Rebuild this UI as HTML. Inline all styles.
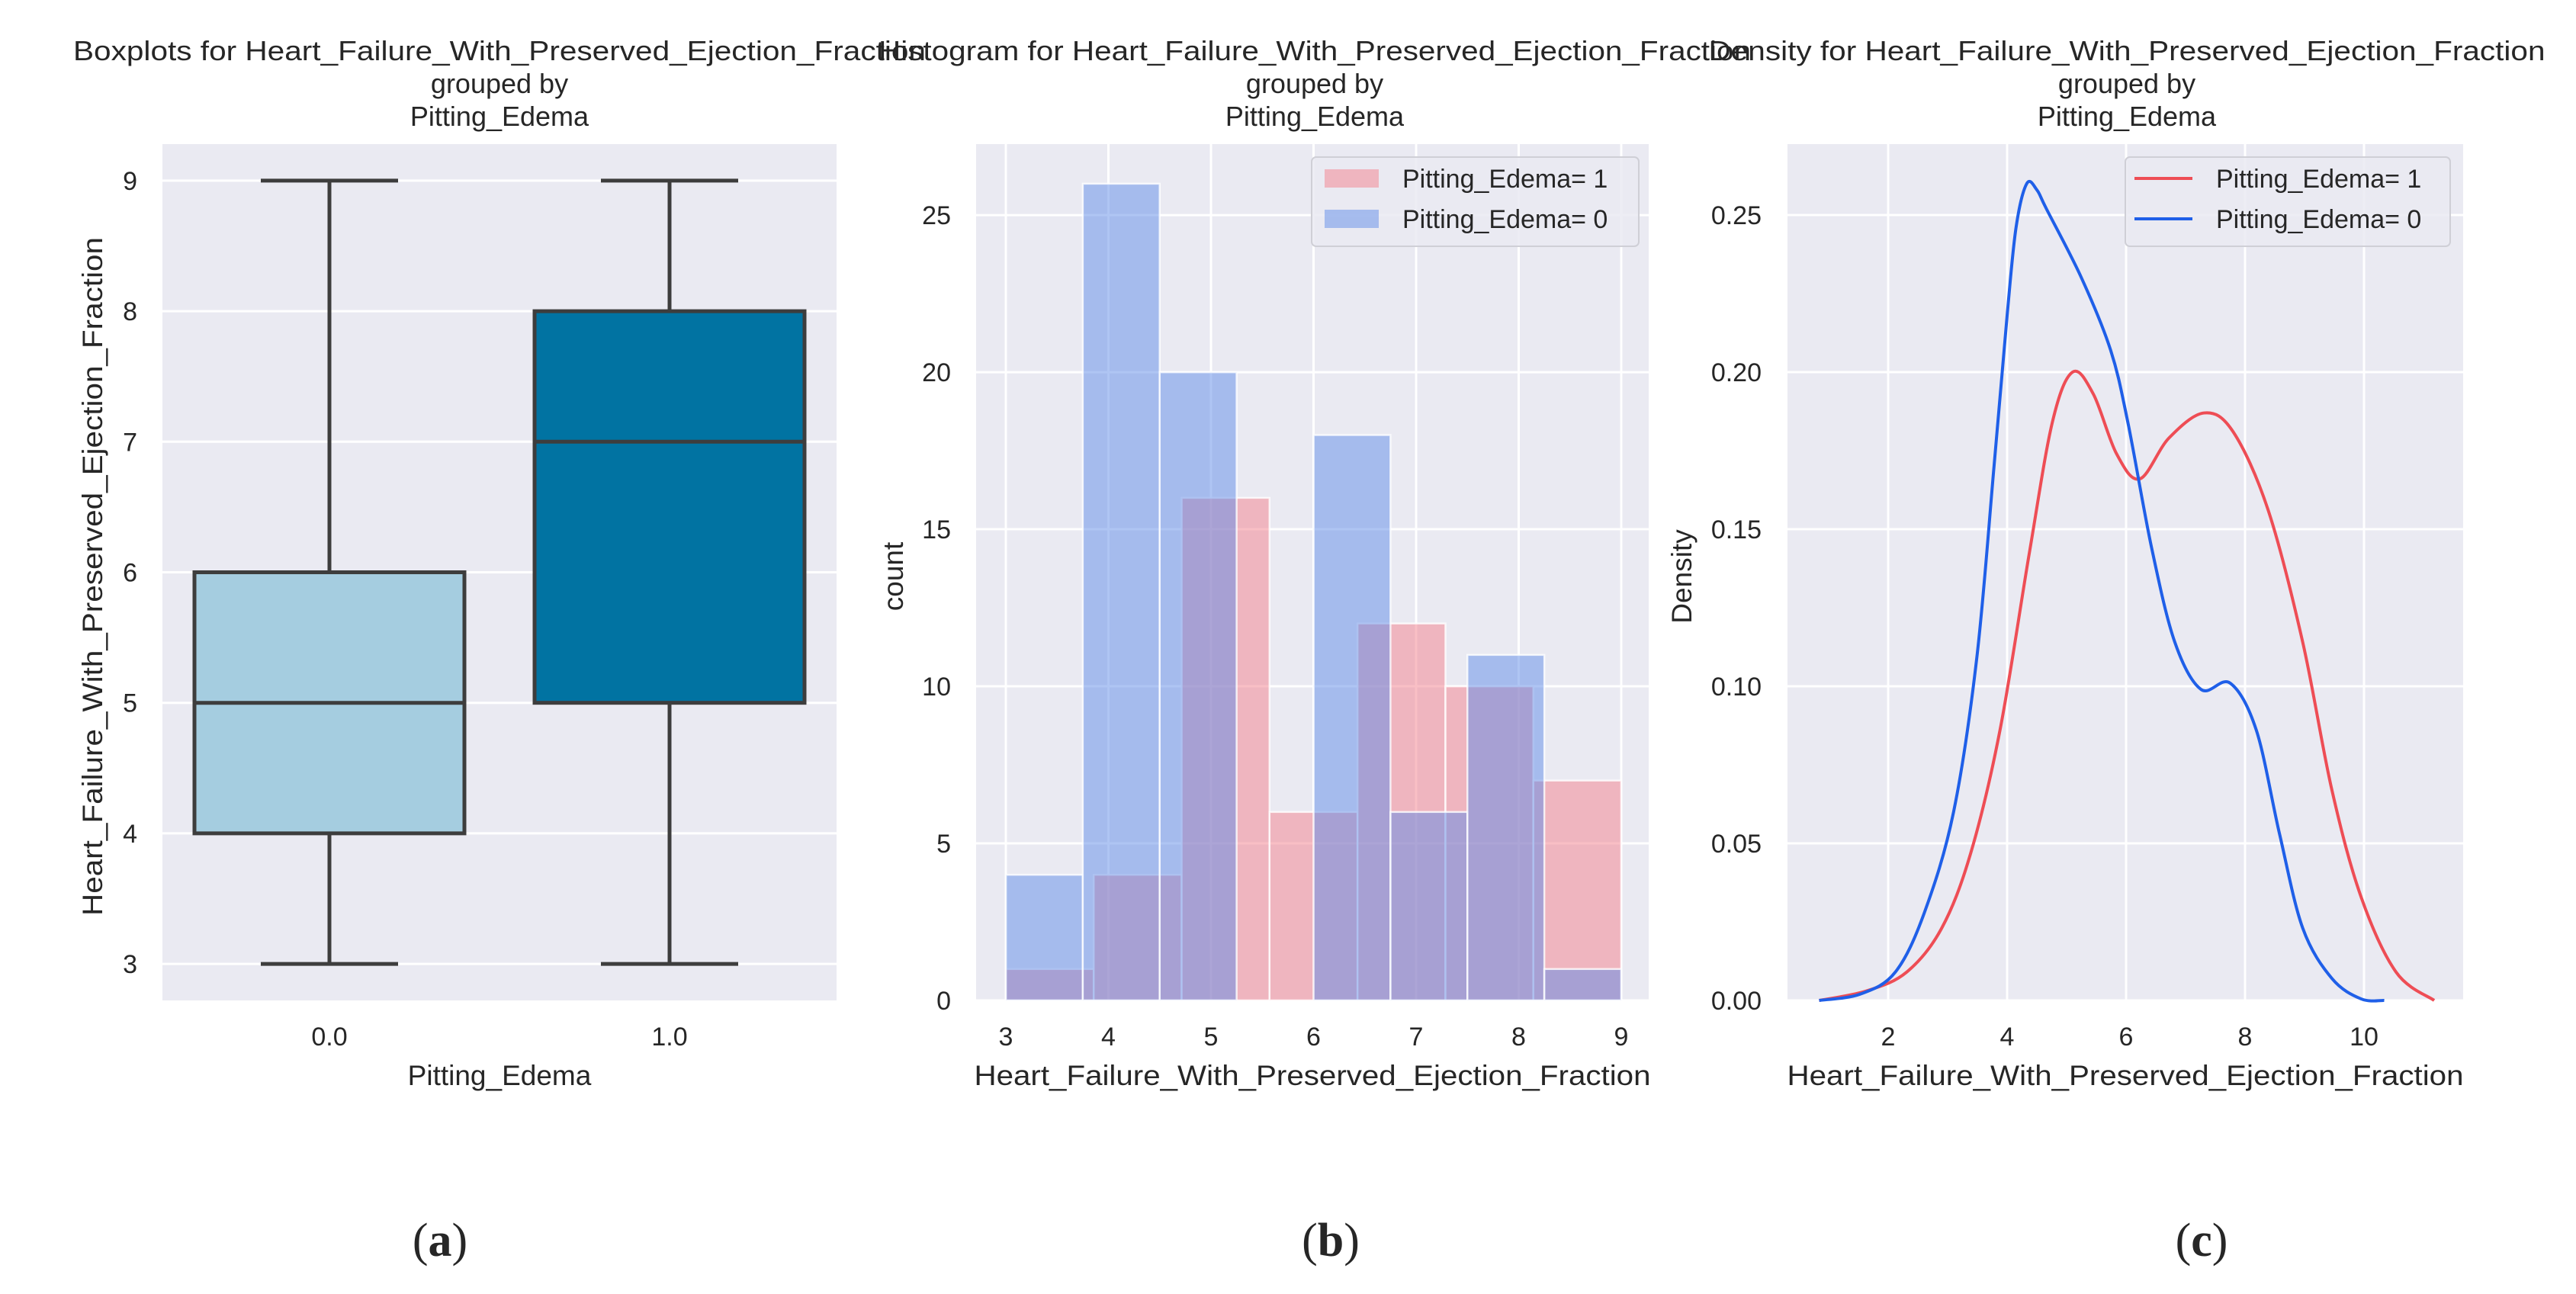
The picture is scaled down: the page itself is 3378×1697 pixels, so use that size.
<!DOCTYPE html>
<html><head><meta charset="utf-8"><style>
html,body{margin:0;padding:0;background:#fff}
svg{display:block}
text{font-family:"Liberation Sans",Arial,sans-serif;fill:#262626}
</style></head><body>
<svg id="fig" width="3378" height="1697" viewBox="0 0 3378 1697" xmlns="http://www.w3.org/2000/svg">
<g id="pa"></g>
<g id="pb"></g>
<g id="pc"></g>
<g>
<text x="577" y="1647" text-anchor="middle" font-size="62" style="font-family:'Liberation Serif',serif">(<tspan font-weight="bold">a</tspan>)</text>
<text x="1745" y="1647" text-anchor="middle" font-size="62" style="font-family:'Liberation Serif',serif">(<tspan font-weight="bold">b</tspan>)</text>
<text x="2887" y="1647" text-anchor="middle" font-size="62" style="font-family:'Liberation Serif',serif">(<tspan font-weight="bold">c</tspan>)</text>
</g>
</svg>
<script>
// ---- Panel A data (boxplot) ----
const boxCategories = ["0.0", "1.0"];
const boxMin = [3, 3];
const boxQ1 = [4, 5];
const boxMedian = [5, 7];
const boxQ3 = [6, 8];
const boxMax = [9, 9];
const boxYTicks = [3, 4, 5, 6, 7, 8, 9];
// ---- Panel B data (histogram) ----
const histEdges1 = [3, 3.857, 4.714, 5.571, 6.429, 7.286, 8.143, 9];
const histCounts1 = [1, 4, 16, 6, 12, 10, 7];
const histEdges0 = [3, 3.75, 4.5, 5.25, 6, 6.75, 7.5, 8.25, 9];
const histCounts0 = [4, 26, 20, 0, 18, 6, 11, 1];
const histXTicks = [3, 4, 5, 6, 7, 8, 9];
const histYTicks = [0, 5, 10, 15, 20, 25];
// ---- Panel C data (density) ----
const dens0X = [0.84,1.53,2.12,2.61,3.10,3.49,3.78,4.0,4.15,4.33,4.5,4.66,5.25,5.74,6.03,6.43,6.82,7.26,7.75,8.19,8.58,8.97,9.46,9.95,10.34];
const dens0Y = [0,0.002,0.009,0.028,0.060,0.109,0.170,0.218,0.246,0.260,0.258,0.252,0.230,0.207,0.184,0.144,0.114,0.099,0.101,0.086,0.053,0.023,0.007,0.0005,0];
const dens1X = [0.84,1.63,2.31,2.90,3.39,3.88,4.37,4.76,5.10,5.45,5.84,6.23,6.72,7.31,7.80,8.39,8.97,9.46,9.95,10.54,11.18];
const dens1Y = [0,0.003,0.009,0.023,0.047,0.086,0.142,0.184,0.200,0.193,0.174,0.166,0.179,0.187,0.181,0.156,0.114,0.067,0.033,0.009,0];
const densXTicks = [2, 4, 6, 8, 10];
const densYTicks = [0, 0.05, 0.10, 0.15, 0.20, 0.25];

const NS = "http://www.w3.org/2000/svg";
function mk(parent, tag, attrs, txt) {
  const e = document.createElementNS(NS, tag);
  for (const k in attrs) e.setAttribute(k, attrs[k]);
  if (txt !== undefined) e.textContent = txt;
  parent.appendChild(e);
  return e;
}
const TOP = 189, BOT = 1312;
const BG = "#eaeaf2";

// ======== Panel A ========
const pa = document.getElementById("pa");
const A = {l: 213, r: 1097};
const yA = v => BOT - (v - 2.72) / (9.28 - 2.72) * (BOT - TOP);
const xA = i => 432 + i * 446;
let r = mk(pa, "rect", {x: A.l, y: TOP, width: A.r - A.l, height: BOT - TOP, fill: BG});


boxYTicks.forEach(t => {
  let g = mk(pa, "line", {x1: A.l, x2: A.r, y1: yA(t), y2: yA(t), stroke: "#fff", "stroke-width": 3});
  
  
  let tl = mk(pa, "text", {x: 180, y: yA(t) + 12, "text-anchor": "end", "font-size": 34}, String(t));
  
  
});
const boxFill = ["#a5cde0", "#0173a2"];
boxCategories.forEach((c, i) => {
  const cx = xA(i), hw = 177, cw = 90;
  const grp = mk(pa, "g", {stroke: "#3d3d3d", "stroke-width": 5, fill: "none"});
  
  
  mk(grp, "line", {x1: cx, x2: cx, y1: yA(boxMax[i]), y2: yA(boxQ3[i])});
  mk(grp, "line", {x1: cx, x2: cx, y1: yA(boxQ1[i]), y2: yA(boxMin[i])});
  mk(grp, "line", {x1: cx - cw, x2: cx + cw, y1: yA(boxMax[i]), y2: yA(boxMax[i])});
  mk(grp, "line", {x1: cx - cw, x2: cx + cw, y1: yA(boxMin[i]), y2: yA(boxMin[i])});
  mk(grp, "rect", {x: cx - hw, y: yA(boxQ3[i]), width: hw * 2, height: yA(boxQ1[i]) - yA(boxQ3[i]), fill: boxFill[i]});
  mk(grp, "line", {x1: cx - hw, x2: cx + hw, y1: yA(boxMedian[i]), y2: yA(boxMedian[i])});
  let tl = mk(pa, "text", {x: cx, y: 1371, "text-anchor": "middle", "font-size": 34}, c);
  
  
});
let t;
t = mk(pa, "text", {x: 655, y: 1423, "text-anchor": "middle", "font-size": 37}, "Pitting_Edema");
 
t = mk(pa, "text", {x: 0, y: 0, "text-anchor": "middle", "font-size": 37, transform: "translate(134,756) rotate(-90)", textLength: 890, lengthAdjust: "spacingAndGlyphs"}, "Heart_Failure_With_Preserved_Ejection_Fraction");
 
function title(parent, cx, l1, len, name) {
  const g = mk(parent, "g", {});
  
  
  mk(g, "text", {x: cx, y: 79, "text-anchor": "middle", "font-size": 36, textLength: len, lengthAdjust: "spacingAndGlyphs"}, l1);
  mk(g, "text", {x: cx, y: 122, "text-anchor": "middle", "font-size": 36}, "grouped by");
  mk(g, "text", {x: cx, y: 165, "text-anchor": "middle", "font-size": 36}, "Pitting_Edema");
}
title(pa, 655, "Boxplots for Heart_Failure_With_Preserved_Ejection_Fraction", 1118, "title-a");

// ======== Panel B ========
const pb = document.getElementById("pb");
const B = {l: 1280, r: 2162};
const xB = v => 1319 + (v - 3) * 134.5;
const yB = c => BOT - c / 27.26 * (BOT - TOP);
r = mk(pb, "rect", {x: B.l, y: TOP, width: B.r - B.l, height: BOT - TOP, fill: BG});


histXTicks.forEach(v => {
  let g = mk(pb, "line", {x1: xB(v), x2: xB(v), y1: TOP, y2: BOT, stroke: "#fff", "stroke-width": 3});
  
  
  let tl = mk(pb, "text", {x: xB(v), y: 1371, "text-anchor": "middle", "font-size": 34}, String(v));
  
  
});
histYTicks.forEach(v => {
  let g = mk(pb, "line", {x1: B.l, x2: B.r, y1: yB(v), y2: yB(v), stroke: "#fff", "stroke-width": 3});
  
  
  let tl = mk(pb, "text", {x: 1247, y: yB(v) + 12, "text-anchor": "end", "font-size": 34}, String(v));
  
  
});
function bars(edges, counts, fill, name) {
  counts.forEach((c, i) => {
    if (c <= 0) return;
    let b = mk(pb, "rect", {x: xB(edges[i]), y: yB(c), width: xB(edges[i + 1]) - xB(edges[i]), height: yB(0) - yB(c), fill: fill, stroke: "#fff", "stroke-width": 2.5, "stroke-opacity": 0.8});
    
    
  });
}
bars(histEdges1, histCounts1, "rgba(244,128,140,0.5)", "bar-edema-1");
bars(histEdges0, histCounts0, "rgba(95,140,232,0.5)", "bar-edema-0");
t = mk(pb, "text", {x: 1721, y: 1423, "text-anchor": "middle", "font-size": 37, textLength: 887, lengthAdjust: "spacingAndGlyphs"}, "Heart_Failure_With_Preserved_Ejection_Fraction");
 
t = mk(pb, "text", {x: 0, y: 0, "text-anchor": "middle", "font-size": 37, transform: "translate(1184,756) rotate(-90)"}, "count");
 
title(pb, 1724, "Histogram for Heart_Failure_With_Preserved_Ejection_Fraction", 1144, "title-b");
function legend(parent, x, w, items, kind, name) {
  const g = mk(parent, "g", {});
  
  
  mk(g, "rect", {x: x, y: 206, width: w, height: 117, rx: 6, fill: "rgba(234,234,242,0.85)", stroke: "#cfcfd6", "stroke-width": 2});
  items.forEach((it, i) => {
    const yy = 234 + i * 53;
    if (kind === "patch") mk(g, "rect", {x: x + 17, y: yy - 12, width: 71, height: 24, fill: it.c});
    else mk(g, "line", {x1: x + 12, x2: x + 88, y1: yy, y2: yy, stroke: it.c, "stroke-width": 4});
    const tx = mk(g, "text", {x: x + 119, y: yy + 12, "font-size": 34}, it.l);
    
    
  });
}
legend(pb, 1720, 429, [{c: "rgba(244,128,140,0.5)", l: "Pitting_Edema= 1"}, {c: "rgba(95,140,232,0.5)", l: "Pitting_Edema= 0"}], "patch", "legend-b");

// ======== Panel C ========
const pc = document.getElementById("pc");
const C = {l: 2344, r: 3230};
const xC = v => 2476 + (v - 2) * 78;
const yC = d => BOT - d * 4120;
r = mk(pc, "rect", {x: C.l, y: TOP, width: C.r - C.l, height: BOT - TOP, fill: BG});


densXTicks.forEach(v => {
  let g = mk(pc, "line", {x1: xC(v), x2: xC(v), y1: TOP, y2: BOT, stroke: "#fff", "stroke-width": 3});
  
  
  let tl = mk(pc, "text", {x: xC(v), y: 1371, "text-anchor": "middle", "font-size": 34}, String(v));
  
  
});
densYTicks.forEach(v => {
  let g = mk(pc, "line", {x1: C.l, x2: C.r, y1: yC(v), y2: yC(v), stroke: "#fff", "stroke-width": 3});
  
  
  let tl = mk(pc, "text", {x: 2310, y: yC(v) + 12, "text-anchor": "end", "font-size": 34}, v.toFixed(2));
  
  
});
function smooth(xs, ys) {
  const P = xs.map((x, i) => [xC(x), yC(ys[i])]);
  let d = "M" + P[0][0] + "," + P[0][1];
  for (let i = 0; i < P.length - 1; i++) {
    const p0 = P[Math.max(0, i - 1)], p1 = P[i], p2 = P[i + 1], p3 = P[Math.min(P.length - 1, i + 2)];
    const c1 = [p1[0] + (p2[0] - p0[0]) / 6, p1[1] + (p2[1] - p0[1]) / 6];
    const c2 = [p2[0] - (p3[0] - p1[0]) / 6, p2[1] - (p3[1] - p1[1]) / 6];
    d += " C" + c1.join(",") + " " + c2.join(",") + " " + p2.join(",");
  }
  return d;
}
let l1 = mk(pc, "path", {d: smooth(dens1X, dens1Y), fill: "none", stroke: "#ee4d55", "stroke-width": 4});


let l0 = mk(pc, "path", {d: smooth(dens0X, dens0Y), fill: "none", stroke: "#1f5fe8", "stroke-width": 4});


t = mk(pc, "text", {x: 2787, y: 1423, "text-anchor": "middle", "font-size": 37, textLength: 887, lengthAdjust: "spacingAndGlyphs"}, "Heart_Failure_With_Preserved_Ejection_Fraction");
 
t = mk(pc, "text", {x: 0, y: 0, "text-anchor": "middle", "font-size": 37, transform: "translate(2218,756) rotate(-90)"}, "Density");
 
title(pc, 2789, "Density for Heart_Failure_With_Preserved_Ejection_Fraction", 1097, "title-c");
legend(pc, 2787, 426, [{c: "#ee4d55", l: "Pitting_Edema= 1"}, {c: "#1f5fe8", l: "Pitting_Edema= 0"}], "line", "legend-c");
</script>
</body></html>
